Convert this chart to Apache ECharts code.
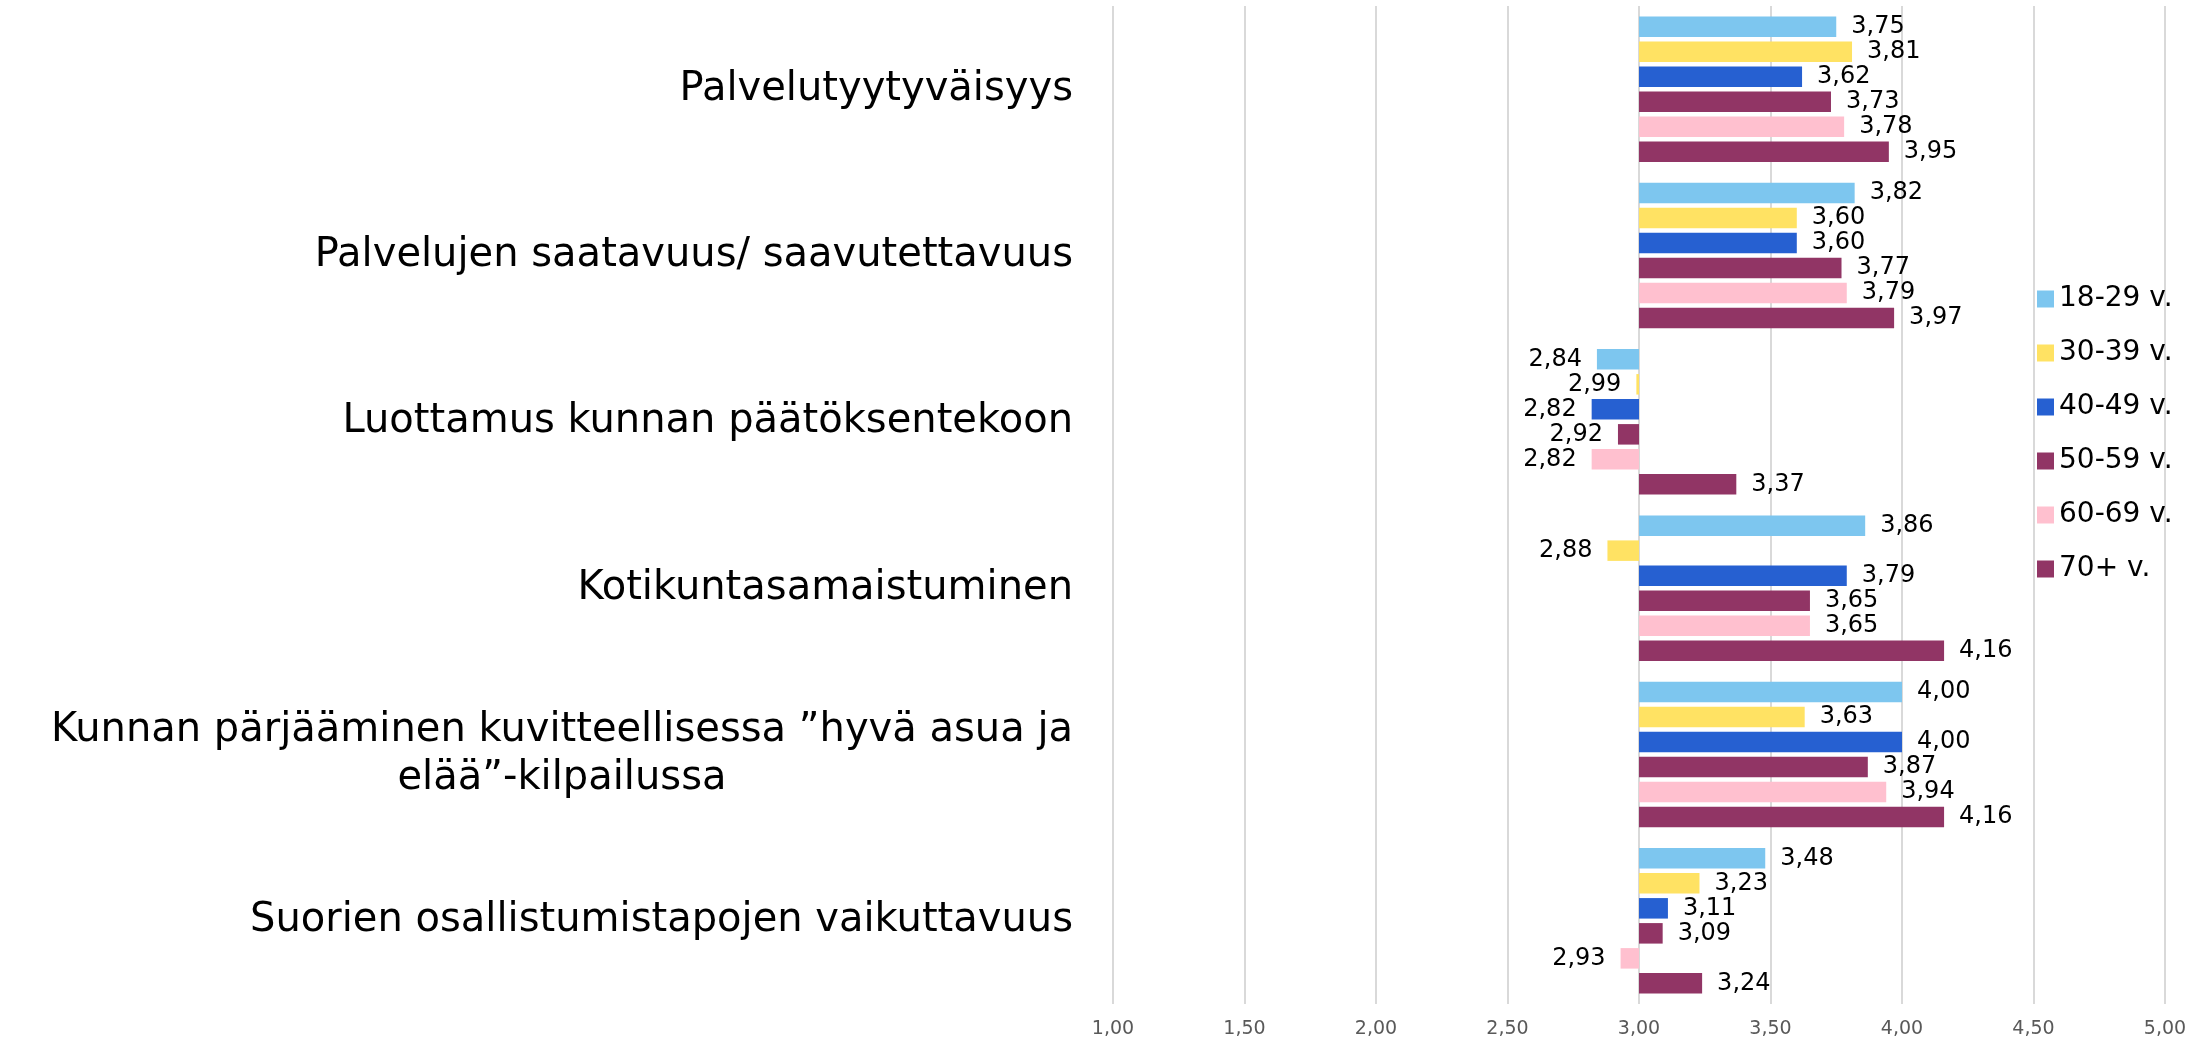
<!DOCTYPE html>
<html>
<head>
<meta charset="utf-8">
<script src="https://cdn.jsdelivr.net/npm/echarts@6/dist/echarts.min.js"></script>
<style>
  html, body { margin: 0; padding: 0; background: #ffffff; }
  #chart { width: 2200px; height: 1040px; }
</style>
</head>
<body>
<div id="chart"></div>
<script>
// Survey questions (top to bottom)
const categories = [
  'Palvelutyytyväisyys',
  'Palvelujen saatavuus/ saavutettavuus',
  'Luottamus kunnan päätöksentekoon',
  'Kotikuntasamaistuminen',
  'Kunnan pärjääminen kuvitteellisessa ”hyvä asua ja\nelää”-kilpailussa',
  'Suorien osallistumistapojen vaikuttavuus'
];

// Age groups
const ageGroups = ['18-29 v.', '30-39 v.', '40-49 v.', '50-59 v.', '60-69 v.', '70+ v.'];

// Mean scores per age group, one value per question
const age18to29 = [3.75, 3.82, 2.84, 3.86, 4.00, 3.48];
const age30to39 = [3.81, 3.60, 2.99, 2.88, 3.63, 3.23];
const age40to49 = [3.62, 3.60, 2.82, 3.79, 4.00, 3.11];
const age50to59 = [3.73, 3.77, 2.92, 3.65, 3.87, 3.09];
const age60to69 = [3.78, 3.79, 2.82, 3.65, 3.94, 2.93];
const age70plus = [3.95, 3.97, 3.37, 4.16, 4.16, 3.24];

// Value axis tick labels (scale 1–5)
const tickLabels = ['1,00', '1,50', '2,00', '2,50', '3,00', '3,50', '4,00', '4,50', '5,00'];

// Bars grow out of the scale midpoint
const BASELINE = 3;

const seriesValues = [age18to29, age30to39, age40to49, age50to59, age60to69, age70plus];
const colors = ['#7dc6ef', '#ffe263', '#2660d1', '#913565', '#ffc0cf', '#913565'];

const fmt = v => v.toFixed(2).replace('.', ',');
const FONT = 'DejaVu Sans';

const series = ageGroups.map((name, si) => ({
  name: name,
  type: 'bar',
  barWidth: 20.5,
  barGap: '22%',
  itemStyle: { color: colors[si] },
  label: {
    show: true,
    distance: 15,
    fontFamily: FONT,
    fontSize: 24,
    color: '#000000',
    formatter: p => fmt(seriesValues[p.seriesIndex][p.dataIndex])
  },
  data: seriesValues[si].map(v => ({
    value: +(v - BASELINE).toFixed(2),
    label: { position: v < BASELINE ? 'left' : 'right' }
  }))
}));

const chart = echarts.init(document.getElementById('chart'), null, { renderer: 'canvas' });
chart.setOption({
  animation: false,
  backgroundColor: '#ffffff',
  color: colors,
  grid: { left: 1113, right: 35, top: 6, bottom: 36, containLabel: false },
  legend: {
    orient: 'vertical',
    left: 2032,
    top: 279,
    icon: 'rect',
    itemWidth: 17,
    itemHeight: 17,
    itemGap: 24,
    textStyle: { fontFamily: FONT, fontSize: 28, color: '#000000', lineHeight: 30 },
    data: ageGroups
  },
  xAxis: {
    type: 'value',
    min: -2,
    max: 2,
    interval: 0.5,
    axisLine: { show: false },
    axisTick: { show: false },
    splitLine: { show: true, lineStyle: { color: '#d9d9d9', width: 2 } },
    axisLabel: {
      margin: 16,
      fontFamily: FONT,
      fontSize: 19,
      color: '#595959',
      formatter: v => tickLabels[Math.round((v + 2) / 0.5)]
    }
  },
  yAxis: {
    type: 'category',
    inverse: true,
    data: categories,
    axisLine: { show: false },
    axisTick: { show: false },
    splitLine: { show: false },
    axisLabel: {
      margin: 40,
      fontFamily: FONT,
      fontSize: 40,
      color: '#000000',
      lineHeight: 48,
      formatter: v => {
        const lines = v.split('\n');
        if (lines.length === 1) return '{t|' + v + '}';
        return '{t|' + lines[0] + '}\n{c|' + lines[1] + '}';
      },
      rich: {
        t: { fontFamily: FONT, fontSize: 40, color: '#000000', lineHeight: 48 },
        c: { fontFamily: FONT, fontSize: 40, color: '#000000', lineHeight: 48, align: 'center' }
      }
    }
  },
  series: series
});
</script>
</body>
</html>
